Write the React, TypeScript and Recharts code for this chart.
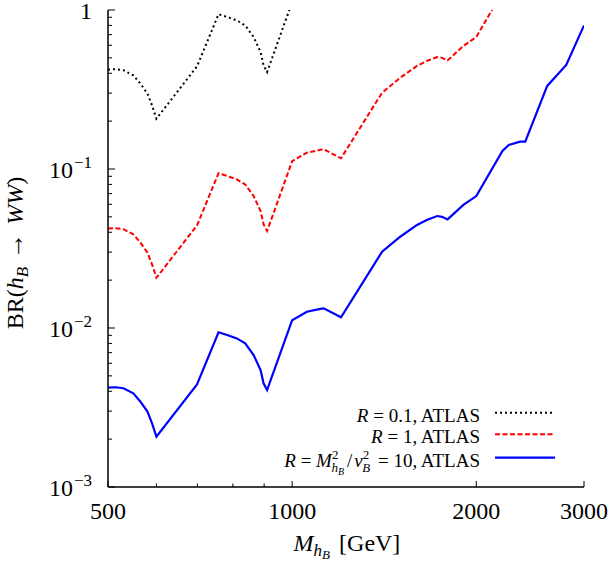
import React from "react";
import { LineChart, Line, XAxis, YAxis, Customized } from "recharts";

// mass grid in GeV, shared by all three curves
const mass = [
  500, 515, 530, 550, 565, 580, 590, 600, 699, 758, 783, 812, 838, 865, 888,
  898, 910, 1000, 1057, 1112, 1126, 1202, 1403, 1502, 1600, 1660, 1726, 1758,
  1795, 1905, 2000, 2207, 2260, 2360, 2405, 2612, 2806, 3000,
];

// BR(h_B -> WW), R = 0.1
const brR01 = [
  0.422, 0.424, 0.418, 0.388, 0.344, 0.298, 0.252, 0.207, 0.442, 0.94, 0.904,
  0.86, 0.8, 0.676, 0.544, 0.449, 0.407, 1.12, null, null, null, null, null,
  null, null, null, null, null, null, null, null, null, null, null, null, null,
  null, null,
];

// BR(h_B -> WW), R = 1
const brR1 = [
  0.0422, 0.0424, 0.0418, 0.0388, 0.0344, 0.0298, 0.0252, 0.0207, 0.0442,
  0.094, 0.0904, 0.086, 0.08, 0.0676, 0.0544, 0.0449, 0.0407, 0.112, 0.1266,
  0.132, 0.133, 0.1168, 0.302, 0.375, 0.445, 0.478, 0.506, 0.5, 0.482, 0.594,
  0.676, 1.3, null, null, null, null, null, null,
];

// BR(h_B -> WW), R = M^2/v^2 = 10
const brR10 = [
  0.00422, 0.00424, 0.00418, 0.00388, 0.00344, 0.00298, 0.00252, 0.00207,
  0.00442, 0.0094, 0.00904, 0.0086, 0.008, 0.00676, 0.00544, 0.00449, 0.00407,
  0.0112, 0.01266, 0.0132, 0.0133, 0.01168, 0.0302, 0.0375, 0.0445, 0.0478,
  0.0506, 0.05, 0.0482, 0.0594, 0.0676, 0.13, 0.1416, 0.1485, 0.1485, 0.333,
  0.451, 0.8,
];

const xTicks = [500, 600, 700, 800, 900, 1000, 2000, 3000];
const xLabels = [500, 1000, 2000, 3000];
const yTicks = [
  0.001, 0.002, 0.003, 0.004, 0.005, 0.006, 0.007, 0.008, 0.009,
  0.01, 0.02, 0.03, 0.04, 0.05, 0.06, 0.07, 0.08, 0.09,
  0.1, 0.2, 0.3, 0.4, 0.5, 0.6, 0.7, 0.8, 0.9, 1,
];

const rows = mass.map((m, i) => ({
  mass: m,
  r01: brR01[i],
  r1: brR1[i],
  r10: brR10[i],
}));

const FONT =
  '"Liberation Serif", "Times New Roman", Tinos, "Noto Serif", "DejaVu Serif", serif';
const serif = { fontFamily: FONT };
const W = 615;
const H = 563;
const M = { top: 10, right: 31, bottom: 0, left: 0 };
const X_AXIS_H = 76;
const Y_AXIS_W = 108;

const isDecade = (v: number) => {
  const e = Math.log10(v);
  return Math.abs(e - Math.round(e)) < 1e-6;
};

function BottomTick({ x, y, payload }: any) {
  const v = payload.value;
  const major = xLabels.includes(v);
  return (
    <g>
      <line x1={x} x2={x} y1={y} y2={y - (major ? 6 : 3.5)} stroke="#000" />
      {major && (
        <text x={x} y={y + 32} textAnchor="middle" fontSize={24} style={serif} fill="#000">
          {v}
        </text>
      )}
    </g>
  );
}

function TopTick({ x, y, payload }: any) {
  const major = xLabels.includes(payload.value);
  return <line x1={x} x2={x} y1={y} y2={y + (major ? 6 : 3.5)} stroke="#000" />;
}

function LeftTick({ x, y, payload }: any) {
  const v = payload.value;
  const major = isDecade(v);
  const exp = Math.round(Math.log10(v));
  return (
    <g>
      <line x1={x} x2={x + (major ? 7 : 4)} y1={y} y2={y} stroke="#000" />
      {major && (
        <text x={x - 16} y={y + 9} textAnchor="end" fontSize={24} style={serif} fill="#000">
          {exp === 0 ? (
            "1"
          ) : (
            <>
              10
              <tspan dy={-10} dx={1} fontSize={17}>
                {"\u2212" + -exp}
              </tspan>
            </>
          )}
        </text>
      )}
    </g>
  );
}

function RightTick({ x, y, payload }: any) {
  const major = isDecade(payload.value);
  return <line x1={x} x2={x - (major ? 7 : 4)} y1={y} y2={y} stroke="#000" />;
}

function Titles() {
  return (
    <g fill="#000">
      <text x={347} y={551} textAnchor="middle" fontSize={24} style={serif}>
        <tspan fontStyle="italic">M</tspan>
        <tspan fontStyle="italic" fontSize={17} dy={5}>h</tspan>
        <tspan fontStyle="italic" fontSize={13} dy={3}>B</tspan>
        <tspan dy={-8} dx={9}>[GeV]</tspan>
      </text>
      <text
        x={23}
        y={253}
        textAnchor="middle"
        fontSize={24}
        style={serif}
        transform="rotate(-90, 23, 253)"
      >
        BR(
        <tspan fontStyle="italic">h</tspan>
        <tspan fontStyle="italic" fontSize={17} dy={5}>B</tspan>
        <tspan dy={-5} dx={8} fontSize={26}>{"\u2192"}</tspan>
        <tspan fontStyle="italic" dx={8}>WW</tspan>
        <tspan>)</tspan>
      </text>
    </g>
  );
}

function LegendBox() {
  const textX = 480;
  const lineX1 = 495;
  const lineX2 = 555;
  const base = [421.7, 443.3, 466.7];
  return (
    <g fontSize={19} fill="#000" style={serif}>
      <text x={textX} y={base[0]} textAnchor="end" style={serif}>
        <tspan fontStyle="italic">R</tspan> = 0.1, ATLAS
      </text>
      <line x1={lineX1} x2={lineX2} y1={base[0] - 9} y2={base[0] - 9} stroke="#000" strokeWidth={2} strokeDasharray="2 3" />
      <text x={textX} y={base[1]} textAnchor="end" style={serif}>
        <tspan fontStyle="italic">R</tspan> = 1, ATLAS
      </text>
      <line x1={lineX1} x2={lineX2} y1={base[1] - 9} y2={base[1] - 9} stroke="#ff0000" strokeWidth={2} strokeDasharray="5 2.5" />
      <text x={textX} y={base[2]} textAnchor="end" style={serif}>
        <tspan fontStyle="italic">R</tspan> = <tspan fontStyle="italic">M</tspan>
        <tspan fontSize={13} dy={-8}>2</tspan>
        <tspan fontStyle="italic" fontSize={13} dx={-7} dy={13}>h</tspan>
        <tspan fontStyle="italic" fontSize={10} dy={3}>B</tspan>
        <tspan dy={-8} dx={3}>/</tspan>
        <tspan fontStyle="italic" dx={2}>v</tspan>
        <tspan fontSize={13} dy={-8}>2</tspan>
        <tspan fontStyle="italic" fontSize={13} dx={-7} dy={13}>B</tspan>
        <tspan dy={-5} dx={3}> = 10, ATLAS</tspan>
      </text>
      <line x1={lineX1} x2={lineX2} y1={base[2] - 9} y2={base[2] - 9} stroke="#0000ff" strokeWidth={2.2} />
    </g>
  );
}

export default function App() {
  return (
    <div style={{ position: "absolute", left: 0, top: 0, background: "#fff" }}>
      <LineChart width={W} height={H} data={rows} margin={M}>
        <XAxis
          dataKey="mass"
          type="number"
          scale="log"
          domain={[500, 3000]}
          allowDataOverflow
          ticks={xTicks}
          interval={0}
          height={X_AXIS_H}
          tickSize={0}
          tickMargin={0}
          tick={<BottomTick />}
          axisLine={{ stroke: "#000", strokeWidth: 1.5 }}
        />
        <XAxis
          xAxisId="top"
          dataKey="mass"
          orientation="top"
          type="number"
          scale="log"
          domain={[500, 3000]}
          allowDataOverflow
          ticks={xTicks}
          interval={0}
          height={0}
          tickSize={0}
          tickMargin={0}
          tick={<TopTick />}
          axisLine={{ stroke: "#000", strokeWidth: 1.5 }}
        />
        <YAxis
          type="number"
          scale="log"
          domain={[0.001, 1]}
          allowDataOverflow
          ticks={yTicks}
          interval={0}
          width={Y_AXIS_W}
          tickSize={0}
          tickMargin={0}
          tick={<LeftTick />}
          axisLine={{ stroke: "#000", strokeWidth: 1.5 }}
        />
        <YAxis
          yAxisId="right"
          orientation="right"
          type="number"
          scale="log"
          domain={[0.001, 1]}
          allowDataOverflow
          ticks={yTicks}
          interval={0}
          width={0}
          tickSize={0}
          tickMargin={0}
          tick={<RightTick />}
          axisLine={{ stroke: "#000", strokeWidth: 1.5 }}
        />
        <Line
          dataKey="r01"
          stroke="#000"
          strokeWidth={2}
          strokeDasharray="2 3"
          dot={false}
          activeDot={false}
          isAnimationActive={false}
        />
        <Line
          dataKey="r1"
          stroke="#ff0000"
          strokeWidth={2}
          strokeDasharray="5 2.5"
          dot={false}
          activeDot={false}
          isAnimationActive={false}
        />
        <Line
          dataKey="r10"
          stroke="#0000ff"
          strokeWidth={2.2}
          dot={false}
          activeDot={false}
          isAnimationActive={false}
        />
        <Customized component={Titles} />
        <Customized component={LegendBox} />
      </LineChart>
    </div>
  );
}
